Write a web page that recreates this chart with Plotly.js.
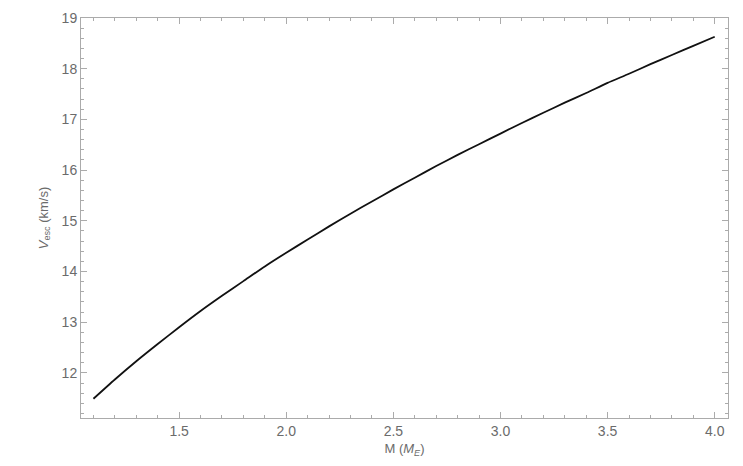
<!DOCTYPE html>
<html>
<head>
<meta charset="utf-8">
<script src="https://cdn.plot.ly/plotly-3.0.1.min.js"></script>
<style>html,body{margin:0;padding:0;background:#fff;}#chart{width:743px;height:466px;}</style>
</head>
<body>
<div id="chart"></div>
<script>
const massME = [1.1, 1.2, 1.3, 1.4, 1.5, 1.6, 1.7, 1.8, 1.9, 2.0, 2.1, 2.2, 2.3, 2.4, 2.5, 2.6, 2.7, 2.8, 2.9, 3.0, 3.1, 3.2, 3.3, 3.4, 3.5, 3.6, 3.7, 3.8, 3.9, 4.0];
const vEsc = [11.49, 11.87, 12.23, 12.57, 12.90, 13.22, 13.52, 13.81, 14.10, 14.37, 14.63, 14.89, 15.14, 15.38, 15.62, 15.85, 16.08, 16.30, 16.51, 16.72, 16.93, 17.13, 17.33, 17.52, 17.72, 17.90, 18.09, 18.27, 18.45, 18.63];

const frameColor = '#ababab';
const textColor = '#6b6b6b';
const fontFam = '"Liberation Sans", Arial, sans-serif';

const axisCommon = {
  showline: true, linecolor: frameColor, linewidth: 1,
  mirror: 'allticks', ticks: 'inside', ticklen: 6, tickwidth: 1, tickcolor: frameColor,
  showgrid: false, zeroline: false,
  tickfont: {family: fontFam, size: 14, color: textColor},
  minor: {ticks: 'inside', ticklen: 3, tickcolor: frameColor, tickwidth: 1, showgrid: false}
};

const layout = {
  width: 743, height: 466,
  margin: {l: 81, r: 15, t: 18, b: 48},
  paper_bgcolor: '#fff', plot_bgcolor: '#fff',
  showlegend: false,
  xaxis: Object.assign({}, axisCommon, {
    range: [1.042, 4.062], dtick: 0.5, tick0: 1.5, tickformat: '.1f',
    minor: Object.assign({}, axisCommon.minor, {dtick: 0.1}),
    title: {text: 'M (<i>M</i><sub><i>E</i></sub>)', font: {family: fontFam, size: 13, color: textColor}, standoff: 6}
  }),
  yaxis: Object.assign({}, axisCommon, {
    range: [11.11, 19.0], dtick: 1, tick0: 11,
    minor: Object.assign({}, axisCommon.minor, {dtick: 0.2}),
    title: {text: '<i>V</i><sub>esc</sub> (km/s)', font: {family: fontFam, size: 13, color: textColor}, standoff: 10}
  })
};

const data = [{
  x: massME, y: vEsc, type: 'scatter', mode: 'lines',
  line: {color: '#111', width: 1.8, shape: 'spline', smoothing: 0.6}
}];

Plotly.newPlot('chart', data, layout, {displayModeBar: false, staticPlot: true});
</script>
</body>
</html>
